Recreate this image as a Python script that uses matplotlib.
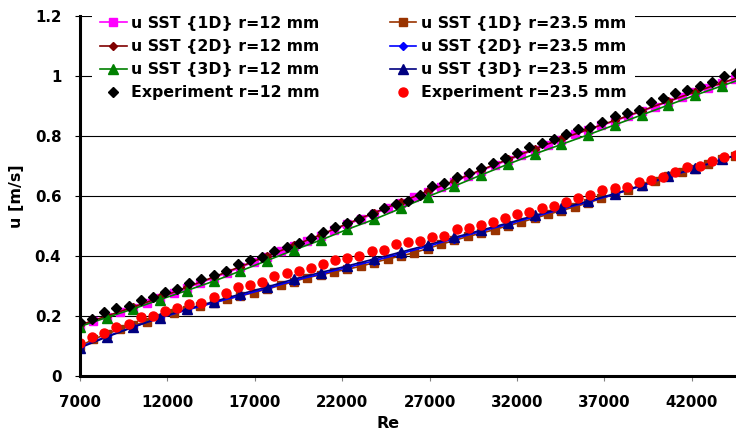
import matplotlib
matplotlib.use("Agg")
import matplotlib.pyplot as plt

plt.rcParams['font.family'] = ['DejaVu Sans']
plt.rcParams['font.weight'] = 'bold'

# Reynolds numbers of the experiment points (both radii)
re_exp = [7000, 7695, 8390, 9085, 9780, 10475, 11170, 11865, 12560, 13255,
          13950, 14645, 15340, 16035, 16730, 17425, 18120, 18815, 19510, 20205,
          20900, 21595, 22290, 22985, 23680, 24375, 25070, 25765, 26460, 27155,
          27850, 28545, 29240, 29935, 30630, 31325, 32020, 32715, 33410, 34105,
          34800, 35495, 36190, 36885, 37580, 38275, 38970, 39665, 40360, 41055,
          41750, 42445, 43140, 43835, 44530]
u_exp_12 = [0.181, 0.189, 0.214, 0.226, 0.234, 0.252, 0.264, 0.279, 0.291, 0.309,
            0.322, 0.338, 0.351, 0.372, 0.386, 0.396, 0.416, 0.429, 0.442, 0.459,
            0.479, 0.498, 0.509, 0.522, 0.539, 0.559, 0.572, 0.584, 0.604, 0.633,
            0.642, 0.662, 0.678, 0.692, 0.711, 0.726, 0.742, 0.762, 0.776, 0.789,
            0.806, 0.822, 0.831, 0.848, 0.867, 0.878, 0.887, 0.914, 0.926, 0.942,
            0.953, 0.967, 0.981, 1.000, 1.011]
u_exp_235 = [0.111, 0.129, 0.144, 0.164, 0.173, 0.196, 0.200, 0.218, 0.227, 0.240,
             0.244, 0.264, 0.278, 0.296, 0.303, 0.312, 0.333, 0.342, 0.351, 0.359,
             0.373, 0.386, 0.395, 0.399, 0.416, 0.420, 0.440, 0.445, 0.451, 0.462,
             0.468, 0.489, 0.494, 0.503, 0.514, 0.528, 0.540, 0.548, 0.559, 0.567,
             0.581, 0.592, 0.603, 0.620, 0.626, 0.631, 0.648, 0.653, 0.664, 0.679,
             0.696, 0.700, 0.718, 0.729, 0.735]

# 1D model, fine Re steps
re_1d = [7000, 7765, 8530, 9295, 10060, 10825, 11590, 12355, 13120, 13885,
         14650, 15415, 16180, 16945, 17710, 18475, 19240, 20005, 20770, 21535,
         22300, 23065, 23830, 24595, 25360, 26125, 26890, 27655, 28420, 29185,
         29950, 30715, 31480, 32245, 33010, 33775, 34540, 35305, 36070, 36835,
         37600, 38365, 39130, 39895, 40660, 41425, 42190, 42955, 43720, 44485,
         45250]
u_1d_12 = [0.167, 0.182, 0.198, 0.213, 0.228, 0.244, 0.260, 0.276, 0.293, 0.310,
           0.327, 0.344, 0.362, 0.380, 0.398, 0.416, 0.433, 0.450, 0.468, 0.487,
           0.505, 0.523, 0.541, 0.559, 0.577, 0.595, 0.612, 0.630, 0.648, 0.666,
           0.684, 0.702, 0.719, 0.737, 0.754, 0.771, 0.788, 0.805, 0.820, 0.835,
           0.850, 0.866, 0.882, 0.898, 0.914, 0.930, 0.945, 0.960, 0.975, 0.990,
           1.005]
u_1d_235 = [0.100, 0.122, 0.140, 0.156, 0.169, 0.181, 0.195, 0.209, 0.221, 0.233,
            0.245, 0.256, 0.267, 0.278, 0.290, 0.302, 0.315, 0.328, 0.337, 0.347,
            0.356, 0.366, 0.378, 0.390, 0.400, 0.411, 0.425, 0.439, 0.452, 0.465,
            0.476, 0.488, 0.501, 0.513, 0.526, 0.539, 0.551, 0.564, 0.577, 0.592,
            0.606, 0.620, 0.634, 0.650, 0.667, 0.679, 0.691, 0.706, 0.723, 0.734,
            0.745]

# 2D / 3D models, coarser Re steps
re_23d = [7000, 8530, 10060, 11590, 13120, 14650, 16180, 17710, 19240, 20770,
          22300, 23830, 25360, 26890, 28420, 29950, 31480, 33010, 34540, 36070,
          37600, 39130, 40660, 42190, 43720, 45250]
u_2d_12 = [0.170, 0.200, 0.230, 0.262, 0.296, 0.330, 0.365, 0.400, 0.435, 0.471,
           0.508, 0.544, 0.580, 0.616, 0.651, 0.687, 0.722, 0.757, 0.790, 0.822,
           0.852, 0.884, 0.916, 0.947, 0.977, 1.007]
u_3d_12 = [0.165, 0.195, 0.224, 0.255, 0.285, 0.316, 0.350, 0.385, 0.420, 0.453,
           0.489, 0.522, 0.559, 0.598, 0.633, 0.670, 0.706, 0.740, 0.772, 0.804,
           0.837, 0.870, 0.903, 0.936, 0.967, 0.998]
u_2d_235 = [0.097, 0.132, 0.164, 0.194, 0.220, 0.244, 0.268, 0.292, 0.318, 0.340,
            0.362, 0.384, 0.408, 0.432, 0.458, 0.482, 0.506, 0.531, 0.556, 0.580,
            0.606, 0.634, 0.664, 0.692, 0.722, 0.748]
u_3d_235 = [0.094, 0.130, 0.163, 0.195, 0.223, 0.248, 0.273, 0.297, 0.323, 0.345,
            0.367, 0.390, 0.413, 0.437, 0.462, 0.486, 0.510, 0.535, 0.559, 0.583,
            0.608, 0.636, 0.665, 0.693, 0.722, 0.748]

x_ticks = [7000, 12000, 17000, 22000, 27000, 32000, 37000, 42000]
y_ticks = [0, 0.2, 0.4, 0.6, 0.8, 1.0, 1.2]
y_tick_labels = ['0', '0.2', '0.4', '0.6', '0.8', '1', '1.2']

fig = plt.figure(figsize=(7.36, 4.30), dpi=100)
ax = fig.add_axes([80/736, 54/430, 656/736, 360/430])

ax.plot(re_1d, u_1d_12, color='#FF00FF', marker='s', ms=5.5, lw=1.2, label='u SST {1D} r=12 mm')
ax.plot(re_23d, u_2d_12, color='#800000', marker='D', ms=4.5, lw=1.2, label='u SST {2D} r=12 mm')
ax.plot(re_23d, u_3d_12, color='#008000', marker='^', ms=6.5, lw=1.2, label='u SST {3D} r=12 mm')
ax.plot(re_1d, u_1d_235, color='#993300', marker='s', ms=5.5, lw=1.2, label='u SST {1D} r=23.5 mm')
ax.plot(re_23d, u_2d_235, color='#0000FF', marker='D', ms=4.5, lw=1.2, label='u SST {2D} r=23.5 mm')
ax.plot(re_23d, u_3d_235, color='#000080', marker='^', ms=6.5, lw=1.2, label='u SST {3D} r=23.5 mm')
ax.plot(re_exp, u_exp_12, ls='none', color='black', marker='D', ms=5, label='Experiment r=12 mm')
ax.plot(re_exp, u_exp_235, ls='none', color='#FF0000', marker='o', ms=6.5, label='Experiment r=23.5 mm')

ax.set_xlim(7000, 44530)
ax.set_ylim(0, 1.2)
ax.set_xticks(x_ticks)
ax.set_xticklabels([str(t) for t in x_ticks])
ax.set_yticks(y_ticks)
ax.set_yticklabels(y_tick_labels)
ax.tick_params(axis='both', labelsize=10.8, direction='out', length=3.5, width=0.8)
ax.tick_params(axis='y', pad=10)
ax.tick_params(axis='x', pad=10, color='#808080')
for lab in ax.get_xticklabels() + ax.get_yticklabels():
    lab.set_fontweight('bold')

ax.grid(axis='y', color='black', lw=0.8)
ax.set_axisbelow(True)
for s in ['top', 'right']:
    ax.spines[s].set_visible(False)
for s in ['left', 'bottom']:
    ax.spines[s].set_linewidth(2.2)
    ax.spines[s].set_zorder(5)

ax.set_xlabel('Re', fontsize=11.5, fontweight='bold')
ax.xaxis.set_label_coords(0.47, -0.11)
ax.set_ylabel('u [m/s]', fontsize=11.5, fontweight='bold')
ax.yaxis.set_label_coords(-0.085, 0.5)

h, l = ax.get_legend_handles_labels()
order = [0, 1, 2, 6, 3, 4, 5, 7]
leg = ax.legend([h[i] for i in order], [l[i] for i in order], ncol=2,
                loc='upper left', bbox_to_anchor=(92/736, 1 - 8/430),
                bbox_transform=fig.transFigure, numpoints=1,
                prop={'size': 11.3, 'weight': 'bold'}, frameon=True,
                fancybox=False, borderaxespad=0, borderpad=0.5,
                handlelength=1.7, handletextpad=0.3, columnspacing=4.45,
                labelspacing=0.52)
leg.get_frame().set_edgecolor('none')
leg.get_frame().set_facecolor('white')
leg.get_frame().set_alpha(1)

fig.savefig('out.png', dpi=100)
